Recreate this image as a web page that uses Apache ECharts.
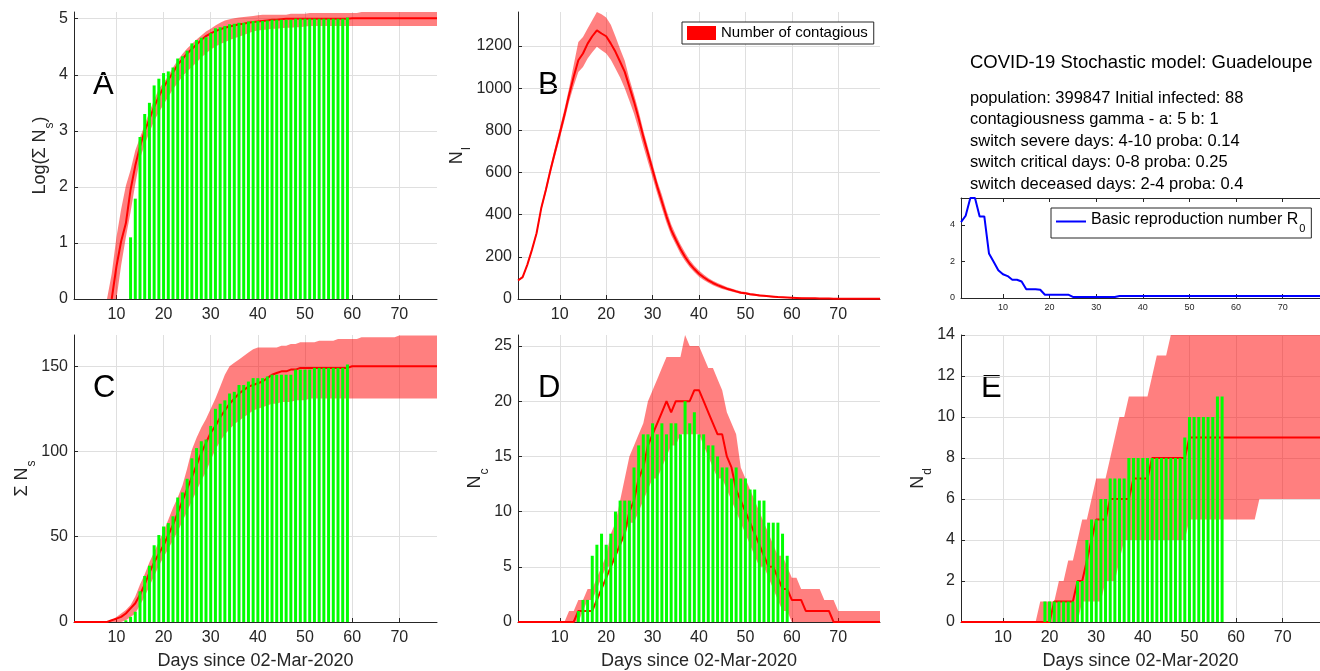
<!DOCTYPE html>
<html>
<head>
<meta charset="utf-8">
<script src="https://cdn.jsdelivr.net/npm/echarts@6/dist/echarts.min.js"></script>
<style>
  html, body { margin: 0; padding: 0; background: #fff; }
  #chart { width: 1320px; height: 671px; }
</style>
</head>
<body>
<div id="chart"></div>
<script>
// ---- data, one value per day starting at day 1 (unless a first day is given) ----
const dayTicks = [10, 20, 30, 40, 50, 60, 70];

// A: Log(sum Ns)
const aMedian = [null, null, null, null, null, null, null, null,
  0, 0.58, 1.03, 1.35, 1.95, 2.38, 2.72, 3.0, 3.21, 3.43, 3.61, 3.78, 3.91, 4.04, 4.18, 4.28, 4.38, 4.46, 4.54,
  4.62, 4.69, 4.74, 4.78, 4.81, 4.84, 4.86, 4.88, 4.9, 4.91, 4.93, 4.94, 4.95, 4.96, 4.97, 4.98, 4.98, 4.99,
  5.0, 5.0, 5.0, 5.0, 5.0, 5.0, 5.0, 5.0, 5.0, 5.0, 5.0, 5.0, 5.0, 5.0,
  5.01, 5.01, 5.01, 5.01, 5.01, 5.01, 5.01, 5.01, 5.01, 5.01, 5.01, 5.01, 5.01, 5.01, 5.01, 5.01, 5.01, 5.01, 5.01];
const aUpper = [null, null, null, null, null, null, null,
  0, 0.45, 1.1, 1.6, 2.02, 2.3, 2.65, 2.88, 3.11, 3.34, 3.55, 3.75, 3.86, 3.98, 4.13, 4.26, 4.37, 4.47, 4.55,
  4.63, 4.7, 4.77, 4.82, 4.88, 4.93, 4.97, 4.99, 5.01, 5.02, 5.03, 5.04, 5.05, 5.06,
  5.07, 5.07, 5.07, 5.07, 5.07, 5.07, 5.09, 5.09, 5.09, 5.09,
  5.1, 5.1, 5.1, 5.1, 5.1, 5.1, 5.1, 5.1, 5.1, 5.1, 5.1,
  5.12, 5.12, 5.12, 5.12, 5.12, 5.12, 5.12, 5.12, 5.12, 5.12, 5.12, 5.12, 5.12, 5.12, 5.12, 5.12, 5.12];
const aLower = [null, null, null, null, null, null, null,
  0, 0, 0, 0.6, 1.1, 1.55, 2.05, 2.5, 2.76, 2.97, 3.18, 3.33, 3.47, 3.61, 3.74, 3.86, 3.97, 4.06, 4.14, 4.22,
  4.31, 4.38, 4.45, 4.5, 4.55, 4.58, 4.62, 4.65, 4.68, 4.71, 4.74, 4.77, 4.79, 4.8, 4.81, 4.82, 4.82, 4.83,
  4.84, 4.84, 4.85, 4.85, 4.86,
  4.87, 4.87, 4.87, 4.87, 4.87, 4.87, 4.87, 4.87, 4.87, 4.87, 4.87, 4.87, 4.87, 4.87,
  4.87, 4.87, 4.87, 4.87, 4.87, 4.87, 4.87, 4.87, 4.87, 4.87, 4.87, 4.87, 4.87, 4.87];
const aBarFirstDay = 13;
const aBars = [1.1, 1.79, 2.89, 3.3, 3.5, 3.81, 3.93, 4.03, 4.06,
  4.13, 4.29, 4.33, 4.43, 4.56, 4.62, 4.66, 4.67, 4.74, 4.83,
  4.85, 4.87, 4.9, 4.91, 4.93, 4.93, 4.95, 4.96, 4.96, 4.96,
  4.97, 4.98, 4.98, 4.98, 4.98, 4.98, 5.0, 5.0, 5.0, 5.0,
  5.0, 5.0, 5.0, 5.0, 5.0, 5.0, 5.0, 5.02];

// B: number of contagious
const bMedian = [88, 104, 162, 233, 312, 430, 517, 612, 699, 785,
  872, 967, 1054, 1132, 1164, 1211, 1246, 1274, 1259, 1246,
  1211, 1172, 1125, 1077, 1006, 935, 856, 770, 691, 612,
  533, 462, 391, 328, 281, 237, 199, 167, 142, 120,
  103, 88, 76, 66, 57, 49, 43, 36, 30, 27,
  23, 20, 17, 15, 13, 11, 9, 8, 7, 6,
  5, 4, 4, 3, 3, 2, 2, 2, 1, 1,
  1, 1, 1, 1, 1, 1, 1, 1, 1];
const bUpper = [92, 108, 168, 240, 322, 442, 532, 630, 720, 810,
  900, 1000, 1110, 1219, 1243, 1283, 1322, 1361, 1350, 1335,
  1300, 1245, 1185, 1130, 1045, 970, 890, 800, 720, 640,
  560, 494, 420, 355, 305, 260, 220, 185, 158, 135,
  116, 100, 87, 76, 66, 57, 50, 43, 37, 33,
  29, 25, 22, 19, 17, 15, 13, 11, 10, 9,
  8, 7, 6, 5, 5, 4, 4, 3, 3, 3,
  2, 2, 2, 2, 2, 2, 2, 2, 2];
const bLower = [84, 100, 156, 226, 302, 418, 502, 594, 678, 760,
  845, 935, 1010, 1077, 1100, 1140, 1170, 1196, 1180, 1164,
  1135, 1093, 1050, 1000, 940, 878, 805, 725, 650, 575,
  500, 430, 362, 302, 258, 215, 180, 150, 127, 106,
  90, 77, 65, 56, 48, 41, 35, 30, 25, 21,
  18, 15, 13, 11, 9, 8, 7, 6, 5, 4,
  3, 3, 2, 2, 2, 1, 1, 1, 1, 1,
  1, 1, 1, 1, 0, 0, 0, 0, 0];

// inset: basic reproduction number R0
const r0Values = [4.15, 4.5, 5.47, 5.47, 4.46, 4.46, 2.44, 1.98, 1.52, 1.3,
  1.2, 1.0, 1.0, 0.9, 0.48, 0.48, 0.48, 0.45, 0.18, 0.18,
  0.18, 0.18, 0.18, 0.18, 0.06, 0.06, 0.06, 0.06, 0.06, 0.06,
  0.06, 0.06, 0.06, 0.06, 0.11, 0.11, 0.11, 0.11, 0.11, 0.11,
  0.11, 0.11, 0.11, 0.11, 0.11, 0.11, 0.11, 0.11, 0.11, 0.11,
  0.11, 0.11, 0.11, 0.11, 0.11, 0.11, 0.11, 0.11, 0.11, 0.11,
  0.11, 0.11, 0.11, 0.11, 0.11, 0.11, 0.11, 0.11, 0.11, 0.11,
  0.11, 0.11, 0.11, 0.11, 0.11, 0.11, 0.11, 0.11];

// C: cumulative severe
const cMedian = [0, 0, 0, 0, 0, 0, 0, 0,
  1, 2, 3, 5, 8, 11, 16, 22, 29, 35, 40, 45, 51, 57, 64, 71, 78, 85, 92, 99,
  105, 111, 115, 120, 124, 128, 131, 134, 136, 138, 139, 140, 141, 143, 145, 146, 147, 147, 148, 148,
  149, 149, 149, 149, 149, 149, 149, 149, 149, 149, 149,
  150, 150, 150, 150, 150, 150, 150, 150, 150, 150, 150, 150, 150, 150, 150, 150, 150, 150, 150];
const cUpper = [0, 0, 0, 0, 0, 0, 0, 0,
  1, 3, 5, 7, 10, 15, 22, 28, 35, 41, 47, 53, 60, 67, 73, 80, 90, 101, 108, 114,
  119, 125, 131, 138, 145, 150, 152, 154, 156, 158, 160, 161, 161, 161, 161, 161, 162, 162, 163, 163,
  164, 164, 164, 164, 165, 165, 165, 165, 166, 166, 166, 166, 166,
  167, 167, 167, 167, 167, 167, 167, 167,
  168, 168, 168, 168, 168, 168, 168, 168, 168];
const cLower = [0, 0, 0, 0, 0, 0, 0, 0, 0, 0,
  0, 1, 3, 5, 10, 15, 21, 27, 33, 38, 43, 48, 53, 59, 65, 71, 77, 83, 88, 95,
  101, 106, 110, 113, 116, 118, 120, 122, 124, 125, 126, 127, 128, 128, 129, 129, 129, 130, 130, 130,
  131, 131, 131, 131, 131, 131, 131, 131, 131, 131, 131, 131, 131, 131,
  131, 131, 131, 131, 131, 131, 131, 131, 131, 131, 131, 131, 131, 131];
const cBarFirstDay = 12;
const cBars = [1, 3, 6, 18, 27, 33, 45, 51, 56, 58,
  62, 73, 76, 84, 96, 102, 106, 107, 115, 125,
  128, 130, 134, 135, 139, 139, 141, 143, 143, 143,
  144, 145, 145, 145, 145, 145, 148, 148, 148, 148,
  149, 149, 149, 149, 149, 149, 149, 151];

// D: critical
const dMedian = [0, 0, 0, 0, 0, 0, 0, 0, 0, 0, 0, 0, 0,
  1, 1, 1, 1, 2, 3, 4, 5, 6, 7, 8, 10, 11, 13, 14, 16, 17,
  18, 19, 20, 19, 20, 20, 20, 20, 21, 21, 20, 19, 18, 17, 17, 15, 14, 12, 11, 10,
  9, 8, 7, 6, 5, 5, 4, 3, 3, 2, 2, 2, 1, 1, 1, 1, 1, 1,
  0, 0, 0, 0, 0, 0, 0, 0, 0, 0, 0];
const dUpper = [0, 0, 0, 0, 0, 0, 0, 0, 0, 0, 0,
  1, 1, 2, 2, 3, 3, 4, 5, 6, 8, 9, 11, 13, 15, 16, 17, 18, 20, 21,
  22, 23, 24, 24, 24, 24, 26, 25, 25, 25, 24, 23, 23, 22, 21, 19, 18, 17, 14, 13,
  12, 11, 10, 9, 8, 7, 6, 6, 5, 4, 4, 3, 3, 3, 3, 3, 2, 2, 2,
  1, 1, 1, 1, 1, 1, 1, 1, 1, 1];
const dLower = [0, 0, 0, 0, 0, 0, 0, 0, 0, 0, 0, 0, 0, 0,
  1, 2, 2, 3, 4, 5, 5, 6, 7, 8, 9, 9, 10, 11, 12, 13,
  13, 14, 15, 16, 16, 17, 17, 17, 17, 17, 16, 15, 14, 13, 13, 12, 11, 10, 9, 8,
  7, 6, 5, 5, 4, 3, 2, 1, 1,
  0, 0, 0, 0, 0, 0, 0, 0, 0, 0, 0, 0, 0, 0, 0, 0, 0, 0, 0, 0];
const dBarFirstDay = 14;
const dBars = [1, 2, 2, 6, 7, 8, 7, 8, 10, 11,
  11, 11, 14, 16, 17, 17, 18, 17, 18, 17,
  18, 18, 17, 20, 18, 19, 17, 17, 16, 16,
  15, 14, 14, 13, 14, 13, 13, 12, 12, 11,
  11, 9, 9, 9, 8, 6];

// E: deceased
const eMedian = [0, 0, 0, 0, 0, 0, 0, 0, 0, 0, 0, 0, 0, 0, 0, 0, 0, 0, 0, 0,
  1, 1, 1, 1, 1, 2, 2, 3, 4, 5, 5, 5, 6, 6, 6, 6, 6, 7, 7, 7, 7, 8, 8, 8, 8, 8, 8, 8, 8,
  9, 9, 9, 9, 9, 9, 9, 9, 9, 9, 9, 9, 9, 9, 9, 9, 9, 9, 9, 9, 9, 9, 9, 9, 9, 9, 9, 9, 9, 9];
const eUpper = [0, 0, 0, 0, 0, 0, 0, 0, 0, 0, 0, 0, 0, 0, 0, 0, 0,
  1, 1, 1, 1, 2, 2, 3, 3, 4, 5, 5, 6, 7, 7, 7, 8, 9, 10, 10, 11, 11, 11, 11, 11, 12, 13, 13, 13,
  14, 14, 14, 14, 14, 14, 14, 14, 14, 14, 14, 14, 14, 14, 14, 14, 14,
  14, 14, 14, 14, 14, 14, 14, 14, 14, 14, 14, 14, 14, 14, 14, 14];
const eLower = [0, 0, 0, 0, 0, 0, 0, 0, 0, 0, 0, 0, 0, 0, 0, 0, 0, 0, 0, 0, 0, 0, 0, 0, 0, 0,
  1, 1, 1, 1, 1, 2, 2, 2, 3, 4, 4, 4, 4, 4, 4, 4, 4, 4, 4, 4, 4, 4, 4,
  5, 5, 5, 5, 5, 5, 5, 5, 5, 5, 5, 5, 5, 5, 5,
  6, 6, 6, 6, 6, 6, 6, 6, 6, 6, 6, 6, 6, 6];
const eBarFirstDay = 19;
const eBars = [1, 1, 1, 1, 1, 1, 1, 2, 2, 4,
  5, 5, 6, 6, 7, 7, 7, 7, 8, 8,
  8, 8, 8, 8, 8, 8, 8, 8, 8, 8,
  9, 10, 10, 10, 10, 10, 10, 11, 11];

const infoTitle = 'COVID-19 Stochastic model: Guadeloupe';
const infoLines = [
  'population: 399847 Initial infected: 88',
  'contagiousness gamma - a: 5 b: 1',
  'switch severe days: 4-10 proba: 0.14',
  'switch critical days: 0-8 proba: 0.25',
  'switch deceased days: 2-4 proba: 0.4'
];

// ---- styling ----
const FONT = '"Liberation Sans", Arial, sans-serif';
const AX = '#262626';
const GRIDC = '#dfdfdf';
const BAND = 'rgba(255,0,0,0.5)';

const nameRich = {
  a: {fontSize: 18, fontFamily: FONT, color: AX, lineHeight: 20, verticalAlign: 'top'},
  s: {fontSize: 12, fontFamily: FONT, color: AX, lineHeight: 12, verticalAlign: 'top', padding: [12, 0, 0, 1]}
};

function pairs(values, firstDay) {
  const start = firstDay || 1;
  return values.map((v, i) => [i + start, v]);
}

function xAxis(gi, max, withName) {
  return {
    type: 'value', gridIndex: gi, min: 1, max: max,
    axisLine: {show: true, onZero: false, lineStyle: {color: AX}},
    axisTick: {show: true, inside: true, length: 4, customValues: dayTicks, lineStyle: {color: AX}},
    axisLabel: {customValues: dayTicks, color: AX, fontSize: 16, fontFamily: FONT, margin: 8},
    splitLine: {show: true, lineStyle: {color: GRIDC}},
    name: withName ? 'Days since 02-Mar-2020' : '',
    nameLocation: 'middle', nameGap: 30,
    nameTextStyle: {color: AX, fontSize: 18, fontFamily: FONT}
  };
}

function yAxis(gi, max, ticks, name, gap) {
  return {
    type: 'value', gridIndex: gi, min: 0, max: max,
    axisLine: {show: true, onZero: false, lineStyle: {color: AX}},
    axisTick: {show: true, inside: true, length: 4, customValues: ticks, lineStyle: {color: AX}},
    axisLabel: {customValues: ticks, color: AX, fontSize: 16, fontFamily: FONT, margin: 6, formatter: v => String(v)},
    splitLine: {show: true, lineStyle: {color: GRIDC}},
    name: name, nameLocation: 'middle', nameRotate: 90, nameGap: gap,
    nameTextStyle: {color: AX, rich: nameRich}
  };
}

// shaded band between lower and upper, drawn as one polygon through the axis scales
function band(gi, lower, upper, name) {
  const rows = lower.map((l, i) => [i + 1, l, upper[i]]).filter(r => r[1] != null && r[2] != null);
  return {
    type: 'custom', name: name, xAxisIndex: gi, yAxisIndex: gi, data: rows,
    encode: {x: 0, y: [1, 2]}, itemStyle: {color: '#ff0000'}, silent: true, z: 1,
    renderItem: function (params, api) {
      if (params.dataIndexInside !== 0) return null;
      const top = [], bottom = [];
      for (let j = 0; j < rows.length; j++) {
        const x = api.value(0, j);
        bottom.push(api.coord([x, api.value(1, j)]));
        top.push(api.coord([x, api.value(2, j)]));
      }
      return {type: 'polygon', shape: {points: top.concat(bottom.reverse())}, style: {fill: BAND}};
    }
  };
}

function median(gi, values) {
  return {type: 'line', xAxisIndex: gi, yAxisIndex: gi, data: pairs(values), symbol: 'none',
    lineStyle: {color: '#ff0000', width: 2}, itemStyle: {color: '#ff0000'}, silent: true, z: 2};
}

function bars(gi, values, firstDay) {
  return {type: 'bar', xAxisIndex: gi, yAxisIndex: gi, data: pairs(values, firstDay), barWidth: 3,
    itemStyle: {color: '#00ff00'}, silent: true, z: 3};
}

const insetX = xAxis(2, 78, false);
insetX.axisLabel = {customValues: dayTicks, color: AX, fontSize: 9, fontFamily: FONT, margin: 5};
insetX.splitLine = {show: false};
const insetY = yAxis(2, 5.47, [0, 2, 4], '', 0);
insetY.axisLabel = {customValues: [0, 2, 4], color: AX, fontSize: 9, fontFamily: FONT, margin: 6};
insetY.splitLine = {show: false};
const insetTop = {
  type: 'value', gridIndex: 2, min: 1, max: 78, position: 'top',
  axisLine: {show: true, onZero: false, lineStyle: {color: AX}},
  axisTick: {show: true, inside: true, length: 4, customValues: dayTicks, lineStyle: {color: AX}},
  axisLabel: {show: false}, splitLine: {show: false}
};

const letters = [['A', 93, 85], ['B', 538, 85], ['C', 93, 388], ['D', 538, 388], ['E', 981, 388]];
const graphics = letters.map(([t, x, y]) => ({
  type: 'text', x: x, y: y,
  style: {text: t, font: '31px ' + FONT, fill: '#000', verticalAlign: 'middle', align: 'left'}
}));
graphics.push({type: 'text', x: 970, y: 63,
  style: {text: infoTitle, font: '18.5px ' + FONT, fill: '#000', verticalAlign: 'middle'}});
infoLines.forEach((t, i) => graphics.push({type: 'text', x: 970, y: 98 + i * 21.5,
  style: {text: t, font: '16.5px ' + FONT, fill: '#000', verticalAlign: 'middle'}}));

const chart = echarts.init(document.getElementById('chart'));
chart.setOption({
  animation: false,
  backgroundColor: '#fff',
  grid: [
    {left: 74, top: 12, width: 363, height: 287},
    {left: 518, top: 12, width: 362, height: 287},
    {left: 961, top: 198, width: 359, height: 100},
    {left: 74, top: 335, width: 363, height: 288},
    {left: 518, top: 335, width: 362, height: 288},
    {left: 961, top: 335, width: 359, height: 288}
  ],
  xAxis: [
    xAxis(0, 78, false), xAxis(1, 79, false), insetX,
    xAxis(3, 78, true), xAxis(4, 79, true), xAxis(5, 78, true),
    insetTop
  ],
  yAxis: [
    yAxis(0, 5.12, [0, 1, 2, 3, 4, 5], '{a|Log(Σ N}{s|s}{a|)}', 22),
    yAxis(1, 1361, [0, 200, 400, 600, 800, 1000, 1200], '{a|N}{s|I}', 46),
    insetY,
    yAxis(3, 168.3, [0, 50, 100, 150], '{a|Σ N}{s|s}', 35),
    yAxis(4, 26, [0, 5, 10, 15, 20, 25], '{a|N}{s|c}', 28),
    yAxis(5, 14, [0, 2, 4, 6, 8, 10, 12, 14], '{a|N}{s|d}', 26)
  ],
  legend: [
    {data: [{name: 'Number of contagious', icon: 'rect'}], left: 682, top: 22, orient: 'vertical',
     itemWidth: 29, itemHeight: 14, padding: [3, 6, 3, 5], selectedMode: false,
     borderColor: AX, borderWidth: 1, backgroundColor: '#fff',
     textStyle: {color: '#000', fontSize: 15, fontFamily: FONT, lineHeight: 16}},
    {data: [{name: 'Basic reproduction number R0', icon: 'rect'}], left: 1051, top: 208, orient: 'vertical',
     itemWidth: 30, itemHeight: 2, padding: [4, 6, 4, 5], selectedMode: false,
     borderColor: AX, borderWidth: 1, backgroundColor: '#fff',
     formatter: () => '{a|Basic reproduction number R}{s|0}',
     textStyle: {color: '#000', fontFamily: FONT, rich: {
       a: {fontSize: 16, fontFamily: FONT, color: '#000', lineHeight: 19, verticalAlign: 'top'},
       s: {fontSize: 11, fontFamily: FONT, color: '#000', lineHeight: 11, verticalAlign: 'top', padding: [11, 0, 0, 1]}
     }}}
  ],
  graphic: graphics,
  series: [
    band(0, aLower, aUpper), median(0, aMedian), bars(0, aBars, aBarFirstDay),
    band(1, bLower, bUpper, 'Number of contagious'), median(1, bMedian),
    {type: 'line', name: 'Basic reproduction number R0', xAxisIndex: 2, yAxisIndex: 2, data: pairs(r0Values),
     symbol: 'none', lineStyle: {color: '#0000ff', width: 2}, itemStyle: {color: '#0000ff'}, silent: true, z: 2},
    band(3, cLower, cUpper), median(3, cMedian), bars(3, cBars, cBarFirstDay),
    band(4, dLower, dUpper), median(4, dMedian), bars(4, dBars, dBarFirstDay),
    band(5, eLower, eUpper), median(5, eMedian), bars(5, eBars, eBarFirstDay)
  ]
});
</script>
</body>
</html>
